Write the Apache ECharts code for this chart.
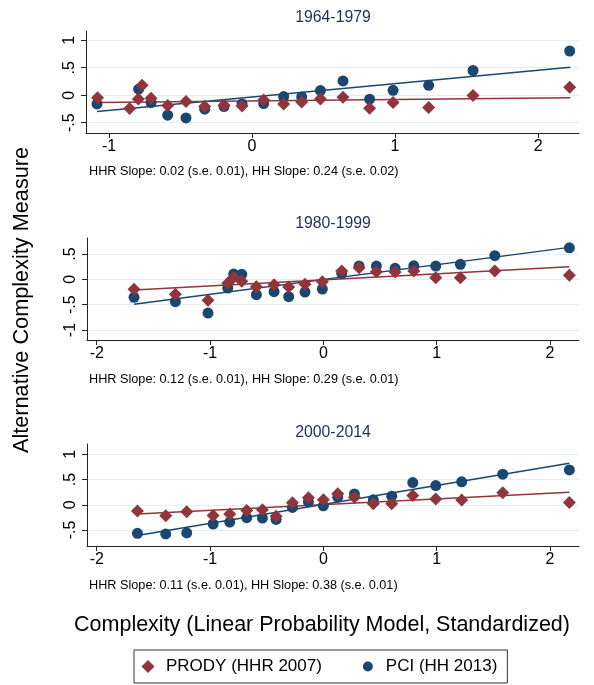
<!DOCTYPE html>
<html>
<head>
<meta charset="utf-8">
<script src="https://cdn.jsdelivr.net/npm/echarts@6/dist/echarts.min.js"></script>
<style>html,body{margin:0;padding:0;background:#fff;}#c{width:594px;height:685px;}</style>
</head>
<body>
<div id="c"></div>
<script>
// ---- Data ----
const panelTitles = ['1964-1979', '1980-1999', '2000-2014'];
const slopeNotes = [
  'HHR Slope: 0.02 (s.e. 0.01), HH Slope: 0.24 (s.e. 0.02)',
  'HHR Slope: 0.12 (s.e. 0.01), HH Slope: 0.29 (s.e. 0.01)',
  'HHR Slope: 0.11 (s.e. 0.01), HH Slope: 0.38 (s.e. 0.01)'
];
const seriesNames = ['PRODY (HHR 2007)', 'PCI (HH 2013)'];

// Panel 1: 1964-1979
const p1PciX = [-1.084, -0.793, -0.706, -0.590, -0.462, -0.331, -0.196, -0.070, 0.081, 0.221, 0.347, 0.478, 0.636, 0.822, 0.986, 1.235, 1.545, 2.221];
const p1PciY = [-0.158, 0.109, -0.134, -0.364, -0.413, -0.255, -0.207, -0.158, -0.152, -0.025, -0.031, 0.084, 0.260, -0.073, 0.090, 0.180, 0.450, 0.805];
const p1ProdyX = [-1.080, -0.856, -0.795, -0.769, -0.706, -0.590, -0.462, -0.331, -0.196, -0.070, 0.081, 0.221, 0.347, 0.478, 0.636, 0.822, 0.986, 1.235, 1.545, 2.221];
const p1ProdyY = [-0.044, -0.243, -0.067, 0.180, -0.055, -0.189, -0.116, -0.207, -0.182, -0.195, -0.085, -0.158, -0.122, -0.067, -0.036, -0.236, -0.134, -0.225, -0.007, 0.145];
const p1FitX = [-1.084, 2.226];
const p1FitPciY = [-0.298, 0.509];
const p1FitProdyY = [-0.134, -0.044];

// Panel 2: 1980-1999
const p2PciX = [-1.671, -1.306, -1.018, -0.844, -0.791, -0.720, -0.591, -0.435, -0.306, -0.162, -0.009, 0.162, 0.315, 0.468, 0.633, 0.798, 0.992, 1.209, 1.513, 2.171];
const p2PciY = [-0.355, -0.441, -0.665, -0.172, 0.105, 0.099, -0.303, -0.244, -0.343, -0.250, -0.191, 0.118, 0.262, 0.262, 0.217, 0.268, 0.262, 0.296, 0.466, 0.623];
const p2ProdyX = [-1.671, -1.306, -1.018, -0.844, -0.791, -0.720, -0.591, -0.435, -0.306, -0.162, -0.009, 0.162, 0.315, 0.468, 0.633, 0.798, 0.992, 1.209, 1.513, 2.171];
const p2ProdyY = [-0.197, -0.296, -0.414, -0.079, 0.039, -0.039, -0.146, -0.106, -0.152, -0.099, -0.047, 0.164, 0.229, 0.150, 0.144, 0.164, 0.032, 0.032, 0.164, 0.079];
const p2FitX = [-1.671, 2.171];
const p2FitPciY = [-0.493, 0.631];
const p2FitProdyY = [-0.211, 0.249];

// Panel 3: 2000-2014
const p3PciX = [-1.641, -1.391, -1.206, -0.973, -0.826, -0.676, -0.538, -0.417, -0.273, -0.132, 0.000, 0.127, 0.274, 0.441, 0.603, 0.789, 0.992, 1.221, 1.583, 2.171];
const p3PciY = [-0.566, -0.578, -0.558, -0.381, -0.342, -0.256, -0.263, -0.290, -0.053, 0.059, -0.020, 0.151, 0.211, 0.099, 0.171, 0.440, 0.381, 0.454, 0.605, 0.690];
const p3ProdyX = [-1.641, -1.391, -1.206, -0.973, -0.826, -0.676, -0.538, -0.417, -0.273, -0.132, 0.000, 0.127, 0.274, 0.441, 0.603, 0.789, 0.992, 1.221, 1.583, 2.171];
const p3ProdyY = [-0.125, -0.217, -0.138, -0.211, -0.184, -0.112, -0.099, -0.230, 0.039, 0.138, 0.099, 0.217, 0.151, 0.020, 0.020, 0.184, 0.112, 0.092, 0.237, 0.046];
const p3FitX = [-1.641, 2.171];
const p3FitPciY = [-0.611, 0.822];
const p3FitProdyY = [-0.184, 0.250];

// Tick labels
const xTicks = [[-1, 0, 1, 2], [-2, -1, 0, 1, 2], [-2, -1, 0, 1, 2]];
const yTicks = [[-0.5, 0, 0.5, 1], [-1, -0.5, 0, 0.5], [-0.5, 0, 0.5, 1]];

// ---- Build chart ----
const NAVY = '#1a476f', MAROON = '#90353b';
const FONT = '"Liberation Sans", Arial, sans-serif';
const zip = (a, b) => a.map((v, i) => [v, b[i]]);

const panels = [
  {pciX: p1PciX, pciY: p1PciY, prX: p1ProdyX, prY: p1ProdyY, fitX: p1FitX, fitPci: p1FitPciY, fitPr: p1FitProdyY},
  {pciX: p2PciX, pciY: p2PciY, prX: p2ProdyX, prY: p2ProdyY, fitX: p2FitX, fitPci: p2FitPciY, fitPr: p2FitProdyY},
  {pciX: p3PciX, pciY: p3PciY, prX: p3ProdyX, prY: p3ProdyY, fitX: p3FitX, fitPci: p3FitPciY, fitPr: p3FitProdyY}
];
const gridTops = [31, 238, 444];
const gridLefts = [86, 87, 87];
const xRanges = [[-1.161, 2.286], [-2.086, 2.256], [-2.086, 2.256]];
const yRanges = [[-0.688, 1.169], [-1.197, 0.816], [-0.817, 1.204]];
const titleY = [18, 224, 433];
const noteY = [171, 379, 585];

const fmtY = v => v === 0 ? '0' : String(v).replace('0.', '.');

const grids = [], xAxes = [], yAxes = [], series = [], graphics = [];
panels.forEach((p, i) => {
  grids.push({left: gridLefts[i], right: 15, top: gridTops[i], height: 102});
  xAxes.push({
    type: 'value', gridIndex: i, min: xRanges[i][0], max: xRanges[i][1],
    axisLine: {show: true, onZero: false, lineStyle: {color: '#222', width: 1}},
    axisTick: {show: true, length: 5, lineStyle: {color: '#222'}, customValues: xTicks[i]},
    axisLabel: {color: '#000', fontSize: 16, fontFamily: FONT, margin: 6, customValues: xTicks[i]},
    splitLine: {show: false}
  });
  yAxes.push({
    type: 'value', gridIndex: i, min: yRanges[i][0], max: yRanges[i][1],
    axisLine: {show: true, onZero: false, lineStyle: {color: '#222', width: 1}},
    axisTick: {show: true, length: 5, lineStyle: {color: '#222'}, customValues: yTicks[i]},
    axisLabel: {color: '#000', fontSize: 16, fontFamily: FONT, margin: 8, rotate: 90, formatter: fmtY, customValues: yTicks[i]},
    splitLine: {show: true, lineStyle: {color: '#e4eef0', width: 1}}
  });
  series.push({
    type: 'line', xAxisIndex: i, yAxisIndex: i, name: 'fitPci' + i, data: zip(p.fitX, p.fitPci),
    symbol: 'none', lineStyle: {color: NAVY, width: 1.5}, itemStyle: {color: NAVY}, z: 2, silent: true
  });
  series.push({
    type: 'line', xAxisIndex: i, yAxisIndex: i, name: 'fitPrody' + i, data: zip(p.fitX, p.fitPr),
    symbol: 'none', lineStyle: {color: MAROON, width: 1.5}, itemStyle: {color: MAROON}, z: 2, silent: true
  });
  series.push({
    type: 'scatter', xAxisIndex: i, yAxisIndex: i, name: seriesNames[1], data: zip(p.pciX, p.pciY),
    symbol: 'circle', symbolSize: 11, itemStyle: {color: NAVY, opacity: 1}, z: 3
  });
  series.push({
    type: 'scatter', xAxisIndex: i, yAxisIndex: i, name: seriesNames[0], data: zip(p.prX, p.prY),
    symbol: 'diamond', symbolSize: 13, itemStyle: {color: MAROON, opacity: 1}, z: 4
  });
  graphics.push({
    type: 'text', x: 333, y: titleY[i],
    style: {text: panelTitles[i], fill: '#1e3158', font: '15.8px ' + FONT, textAlign: 'center', textVerticalAlign: 'middle'}
  });
  graphics.push({
    type: 'text', x: 89, y: noteY[i],
    style: {text: slopeNotes[i], fill: '#000', font: '12.7px ' + FONT, textVerticalAlign: 'middle'}
  });
});

graphics.push({
  type: 'text', x: 22, y: 300, rotation: Math.PI / 2,
  style: {text: 'Alternative Complexity Measure', fill: '#000', font: '21.7px ' + FONT, textAlign: 'center', textVerticalAlign: 'middle'}
});
graphics.push({
  type: 'text', x: 322, y: 625,
  style: {text: 'Complexity (Linear Probability Model, Standardized)', fill: '#000', font: '21.5px ' + FONT, textAlign: 'center', textVerticalAlign: 'middle'}
});

// diamond icon padded inside a 26x13 box (invisible degenerate corners set the box)
const diamondIcon = 'path://M13,0L19.5,6.5L13,13L6.5,6.5Z M0,0L0,0 M26,13L26,13';

const chart = echarts.init(document.getElementById('c'), null, {renderer: 'canvas'});
chart.setOption({
  animation: false,
  backgroundColor: '#fff',
  grid: grids, xAxis: xAxes, yAxis: yAxes, series: series,
  graphic: graphics,
  legend: {
    data: [
      {name: seriesNames[0], icon: diamondIcon},
      {name: seriesNames[1], icon: 'circle', itemStyle: {color: NAVY, borderColor: '#fff', borderWidth: 3}}
    ],
    left: 134, top: 650,
    padding: [8, 10, 8, 1],
    borderColor: '#333', borderWidth: 1,
    itemWidth: 26, itemHeight: 13, itemGap: 38,
    textStyle: {color: '#000', fontSize: 17, fontFamily: FONT}
  }
});
</script>
</body>
</html>
